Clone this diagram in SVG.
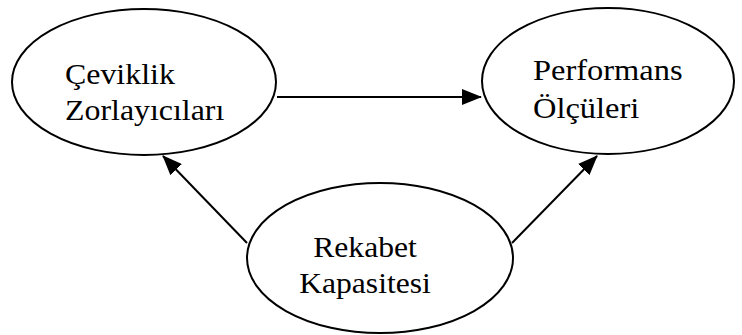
<svg xmlns="http://www.w3.org/2000/svg" width="742" height="335" viewBox="0 0 742 335">
  <style>
    .node { fill: #ffffff; stroke: #000000; stroke-width: 2; }
    .label { font-size: 29px; fill: #000000; }
    .edge { stroke: #000000; stroke-width: 2; fill: none; }
  </style>
  <defs>
    <marker id="arrow" markerWidth="20" markerHeight="16" refX="19" refY="8" orient="auto" markerUnits="userSpaceOnUse">
      <path d="M0,0 L20,8 L0,16 Z" fill="#000000"/>
    </marker>
  </defs>
  <rect width="742" height="335" fill="#ffffff"/>

  <g id="connectors">
    <line class="edge" x1="277" y1="97" x2="481" y2="97" marker-end="url(#arrow)"/>
    <line class="edge" x1="247" y1="243" x2="163" y2="156" marker-end="url(#arrow)"/>
    <line class="edge" x1="512" y1="243" x2="597" y2="156" marker-end="url(#arrow)"/>
  </g>

  <g font-family="'Liberation Serif', 'Times New Roman', Times, serif">
    <g id="ceviklik-zorlayicilari">
      <ellipse class="node" cx="144" cy="82" rx="132" ry="73"/>
      <g transform="translate(65,0) scale(1.1,1)">
        <text class="label" x="0" y="84">Çeviklik</text>
        <text class="label" x="0" y="120">Zorlayıcıları</text>
      </g>
    </g>

    <g id="performans-olculeri">
      <ellipse class="node" cx="608" cy="81" rx="126" ry="73"/>
      <g transform="translate(533,0) scale(1.12,1)">
        <text class="label" x="0" y="80">Performans</text>
        <text class="label" x="0" y="118">Ölçüleri</text>
      </g>
    </g>

    <g id="rekabet-kapasitesi">
      <ellipse class="node" cx="380" cy="258" rx="133" ry="75"/>
      <g transform="translate(365,0) scale(1.09,1)">
        <text class="label" x="0" y="257" text-anchor="middle">Rekabet</text>
        <text class="label" x="0" y="293" text-anchor="middle">Kapasitesi</text>
      </g>
    </g>
  </g>
</svg>
